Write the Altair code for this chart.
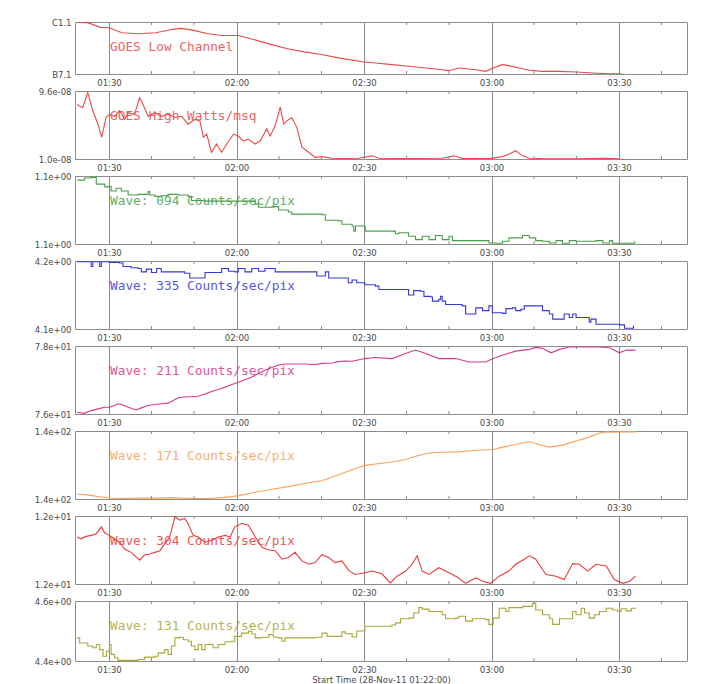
import altair as alt
import pandas as pd

# time axis: minutes after the start time 28-Nov-11 01:22:00
START_LABEL = "Start Time (28-Nov-11 01:22:00)"
major_ticks = [8, 38, 68, 98, 128]          # 01:30 02:00 02:30 03:00 03:30
minor_ticks = [18, 28, 48, 58, 78, 88, 108, 118, 138]

# ---- GOES low channel (units 1e-7 W/m^2 : B7.1 .. C1.1)
goes_low_t = [0.5, 3, 6, 8, 11, 15, 19, 23, 25, 28, 31, 34.5, 38.5, 42, 46, 50, 54, 58, 62, 68,
              70.7, 74.6, 78.5, 82.5, 86.4, 88, 90.3, 94.3, 96.6, 98.4, 100.5, 102, 104.5, 106.9,
              110, 114, 118, 121.8, 125.8, 128.6]
goes_low_v = [10.97, 10.95, 10.6, 10.57, 10.19, 10.12, 10.19, 10.45, 10.52, 10.37, 10.14, 9.99, 9.99,
              9.69, 9.32, 8.99, 8.76, 8.56, 8.31, 8.0, 7.93, 7.8, 7.68, 7.55, 7.42, 7.35, 7.55, 7.42,
              7.3, 7.55, 7.8, 7.73, 7.55, 7.38, 7.3, 7.3, 7.25, 7.18, 7.12, 7.11]

# ---- GOES high channel (units 1e-8 W/m^2)
goes_high_t = [0.5, 1.8, 3.0, 4.2, 5.4, 6.3, 7.3, 8.1, 9.3, 10.5, 11.7, 12.5, 14.0, 15.2, 16.0, 17.2,
               18.8, 20.3, 21.9, 23.5, 25.1, 26.6, 28.2, 29.4, 30.2, 31.0, 32.1, 33.3, 34.5, 35.7,
               37.3, 38.4, 39.6, 40.8, 42.4, 43.6, 45.1, 45.9, 47.1, 48.3, 49.1, 49.8, 51.0, 52.2,
               53.4, 55.0, 56.5, 58.1, 60.5, 62.8, 66.7, 69.9, 71.5, 78.5, 86.4, 89.2, 91.1, 97.4,
               100.6, 102.1, 103.7, 105.3, 106.9, 110.0, 117.9, 124.2, 128.1]
goes_high_v = [7.9, 7.5, 9.4, 7.1, 5.4, 3.75, 6.25, 6.65, 6.4, 7.1, 6.0, 6.85, 6.65, 8.75, 7.9, 6.4,
               6.85, 6.4, 6.65, 6.25, 6.4, 5.4, 6.0, 5.8, 3.75, 4.15, 1.85, 2.9, 1.85, 2.9,
               4.15, 3.9, 3.3, 3.5, 2.9, 3.3, 4.8, 3.9, 5.2, 7.6, 5.4, 5.8, 6.25, 5.0,
               2.5, 1.85, 1.2, 1.3, 1.1, 1.05, 1.1, 1.4, 1.1, 1.05, 1.1, 1.4, 1.05, 1.05,
               1.3, 1.6, 2.05, 1.4, 1.1, 1.05, 1.02, 1.1, 1.02]

# ---- AIA 94
w094_t = [0.5, 2.2, 3.8, 5.0, 7.0, 7.7, 8.5, 9.7, 10.9, 12.5, 14.8, 17.2, 17.6, 18.8, 20.3, 21.9,
          24.3, 26.6, 27.4, 30.6, 38.4, 42.4, 43.2, 46.3, 47.9, 50.2, 51.0, 58.1, 58.9, 62.0,
          62.8, 65.2, 65.6, 66.0, 68.2, 68.3, 74.6, 75.4, 76.2, 78.5, 80.1, 81.7, 83.3, 84.8,
          86.4, 88.0, 88.8, 94.3, 97.4, 99.0, 100.6, 102.1, 103.7, 105.3, 106.9, 108.4, 110.0,
          111.6, 113.2, 114.7, 116.3, 117.9, 122.6, 124.2, 125.8, 126.5, 130.5, 131.7]
w094_v = [1.144, 1.147, 1.148, 1.138, 1.134, 1.135, 1.128, 1.132, 1.128, 1.122, 1.123, 1.127, 1.122,
          1.120, 1.121, 1.123, 1.122, 1.120, 1.114, 1.113, 1.113, 1.109, 1.104, 1.105, 1.100, 1.097,
          1.094, 1.093, 1.085, 1.084, 1.079, 1.0765, 1.069, 1.0765, 1.075, 1.069, 1.069, 1.065,
          1.0665, 1.0615, 1.0565, 1.0615, 1.0565, 1.0625, 1.0565, 1.0615, 1.055, 1.055, 1.0515,
          1.051, 1.054, 1.059, 1.059, 1.0625, 1.059, 1.055, 1.054, 1.0515, 1.055, 1.051, 1.055,
          1.054, 1.055, 1.0515, 1.055, 1.051, 1.051, 1.054]

# ---- AIA 335
w335_t = [0.5, 3.0, 3.8, 4.2, 5.8, 6.2, 8.1, 10.5, 11.3, 13.2, 14.8, 15.6, 16.8, 18.0, 19.2, 20.3,
          24.3, 25.8, 27.0, 29.8, 30.6, 33.7, 34.5, 36.1, 37.6, 38.4, 40.0, 41.6, 43.2, 44.7,
          47.1, 56.5, 56.9, 58.9, 59.7, 64.3, 65.2, 66.3, 68.2, 70.7, 71.5, 77.8, 78.5, 79.7,
          81.3, 82.1, 83.7, 84.1, 85.6, 86.0, 86.4, 87.2, 91.1, 91.9, 93.5, 94.3, 95.9, 97.4,
          98.2, 100.6, 101.4, 102.9, 103.7, 104.9, 105.7, 108.4, 110.0, 111.6, 112.4, 114.7,
          115.1, 116.3, 117.1, 117.9, 119.5, 121.0, 121.4, 122.6, 128.1, 129.3, 131.3, 131.4]
w335_v = [4.199, 4.199, 4.192, 4.199, 4.192, 4.199, 4.198, 4.197, 4.192, 4.190, 4.189, 4.184, 4.188,
          4.183, 4.189, 4.184, 4.184, 4.182, 4.175, 4.175, 4.183, 4.183, 4.189, 4.185, 4.184, 4.189,
          4.184, 4.189, 4.185, 4.189, 4.184, 4.184, 4.178, 4.184, 4.175, 4.168, 4.172, 4.168, 4.165,
          4.163, 4.158, 4.158, 4.150, 4.1565, 4.1555, 4.148, 4.147, 4.141, 4.1435, 4.148, 4.141,
          4.136, 4.134, 4.122, 4.122, 4.131, 4.127, 4.134, 4.124, 4.123, 4.130, 4.131, 4.127,
          4.129, 4.134, 4.134, 4.127, 4.122, 4.1145, 4.1145, 4.122, 4.117, 4.122, 4.117, 4.117,
          4.110, 4.1145, 4.107, 4.106, 4.101, 4.101, 4.105]

# ---- AIA 211
w211_t = [0.5, 2.2, 3.8, 5.4, 7.0, 8.1, 9.3, 10.1, 10.9, 12.5, 14.4, 15.6, 17.2, 18.8, 20.3, 21.9,
          23.1, 24.3, 25.8, 29.0, 30.6, 32.1, 33.7, 35.3, 36.9, 38.6, 40.0, 41.6, 43.2, 44.7,
          46.3, 47.9, 49.4, 54.2, 56.5, 58.1, 60.5, 62.0, 63.6, 65.2, 68.2, 70.7, 74.6, 77.8,
          80.1, 82.5, 85.6, 89.6, 92.7, 96.6, 98.4, 100.6, 103.7, 106.9, 108.4, 110.0, 112.0,
          114.0, 116.3, 117.9, 121.0, 123.4, 125.8, 128.1, 129.7, 131.9]
w211_v = [76.05, 76.02, 76.10, 76.15, 76.20, 76.20, 76.25, 76.30, 76.28, 76.20, 76.12, 76.18, 76.25,
          76.28, 76.30, 76.32, 76.40, 76.48, 76.50, 76.52, 76.59, 76.66, 76.72, 76.79, 76.87, 76.94,
          77.01, 77.09, 77.19, 77.29, 77.37, 77.44, 77.47, 77.47, 77.45, 77.49, 77.50, 77.54, 77.56,
          77.55, 77.63, 77.66, 77.63, 77.78, 77.88, 77.78, 77.63, 77.63, 77.53, 77.53, 77.63, 77.73,
          77.85, 77.90, 77.96, 77.93, 77.80, 77.90, 77.97, 77.97, 77.97, 77.97, 77.95, 77.80, 77.88, 77.88]

# ---- AIA 171
w171_t = [0.5, 3.0, 5.4, 8.1, 10.9, 14.8, 18.8, 22.7, 25.1, 28.2, 31.4, 34.5, 36.9, 38.6, 42.4, 46.3,
          50.2, 54.2, 58.1, 62.0, 65.2, 68.2, 70.7, 74.6, 77.8, 80.1, 83.3, 86.4, 90.3, 94.3, 98.4,
          100.6, 103.7, 106.9, 109.2, 111.6, 114.7, 117.9, 121.0, 123.4, 125.0, 126.6, 128.9, 131.9]
w171_v = [140.28, 140.24, 140.14, 140.06, 140.03, 140.05, 140.05, 140.08, 140.05, 140.03, 140.03, 140.08,
          140.14, 140.20, 140.40, 140.57, 140.73, 140.93, 141.07, 141.43, 141.72, 141.98, 142.06,
          142.18, 142.32, 142.51, 142.71, 142.75, 142.77, 142.87, 142.91, 143.05, 143.21, 143.37,
          143.21, 143.05, 143.17, 143.41, 143.64, 143.88, 143.95, 143.93, 143.95, 143.95]

# ---- AIA 304
w304_t = [0.5, 1.4, 2.6, 3.8, 5.0, 6.2, 7.0, 8.1, 9.3, 10.5, 11.7, 13.2, 15.2, 16.4, 17.6, 18.8, 20.0,
          21.1, 22.3, 23.5, 24.7, 25.8, 26.6, 27.8, 29.0, 30.6, 32.1, 33.7, 35.3, 36.5, 37.6, 39.2,
          40.8, 42.4, 44.0, 45.6, 47.1, 48.7, 50.2, 51.8, 53.4, 55.0, 56.5, 58.1, 59.7, 61.2, 62.8,
          64.4, 65.9, 68.2, 69.9, 72.2, 74.2, 75.8, 77.8, 79.3, 80.5, 81.7, 83.3, 85.6, 88.0, 90.0,
          91.9, 94.3, 95.9, 97.8, 99.8, 102.1, 103.7, 105.7, 106.9, 108.4, 110.8, 113.2, 115.1,
          117.1, 118.7, 120.6, 122.6, 125.0, 126.9, 128.9, 130.5, 131.9]
w304_v = [12.276, 12.266, 12.28, 12.286, 12.296, 12.336, 12.30, 12.286, 12.266, 12.246, 12.206, 12.186,
          12.14, 12.172, 12.176, 12.186, 12.196, 12.236, 12.276, 12.395, 12.376, 12.386, 12.356, 12.286,
          12.276, 12.246, 12.256, 12.276, 12.286, 12.276, 12.336, 12.356, 12.346, 12.276, 12.216, 12.20,
          12.196, 12.146, 12.156, 12.186, 12.136, 12.116, 12.126, 12.172, 12.156, 12.126, 12.136, 12.08,
          12.056, 12.066, 12.076, 12.06, 12.006, 12.046, 12.076, 12.116, 12.166, 12.076, 12.056, 12.096,
          12.066, 12.04, 12.004, 12.036, 12.016, 12.004, 12.046, 12.076, 12.116, 12.146, 12.166, 12.146,
          12.056, 12.046, 12.026, 12.12, 12.116, 12.076, 12.116, 12.106, 12.026, 12.004, 12.016, 12.046]

# ---- AIA 131
w131_t = [0.5, 1.1, 2.2, 3.0, 4.2, 5.0, 5.8, 6.6, 7.4, 8.1, 8.5, 9.3, 10.1, 12.5, 14.8, 16.4, 18.8,
          19.6, 21.1, 21.9, 22.7, 23.5, 24.7, 25.5, 26.6, 27.4, 28.2, 29.0, 29.8, 30.6, 32.5, 33.7,
          35.3, 36.9, 37.6, 39.2, 40.8, 41.6, 42.4, 44.0, 45.6, 46.7, 47.9, 48.7, 49.4, 54.2, 56.5,
          58.1, 59.3, 62.0, 62.8, 63.6, 65.2, 66.3, 68.2, 74.6, 75.4, 76.6, 78.5, 79.7, 80.9, 81.7,
          83.3, 86.4, 87.2, 89.6, 90.3, 91.9, 93.5, 96.6, 97.4, 98.4, 99.8, 101.4, 102.1, 105.3,
          107.7, 108.4, 110.0, 111.6, 112.4, 114.0, 116.3, 117.1, 117.9, 119.1, 119.9, 121.0, 122.2,
          123.4, 125.0, 126.5, 127.7, 128.5, 129.7, 130.9, 131.9]
w131_v = [4.477, 4.46, 4.46, 4.45, 4.444, 4.455, 4.438, 4.416, 4.433, 4.455, 4.422, 4.411, 4.402, 4.402,
          4.405, 4.413, 4.416, 4.427, 4.438, 4.422, 4.45, 4.477, 4.479, 4.471, 4.466, 4.45, 4.438,
          4.455, 4.438, 4.455, 4.444, 4.455, 4.464, 4.466, 4.482, 4.493, 4.499, 4.49, 4.477, 4.479,
          4.488, 4.479, 4.477, 4.466, 4.477, 4.477, 4.479, 4.493, 4.482, 4.482, 4.497, 4.491, 4.48,
          4.50, 4.516, 4.52, 4.527, 4.541, 4.543, 4.56, 4.578, 4.573, 4.565, 4.554, 4.541, 4.543,
          4.549, 4.533, 4.541, 4.538, 4.522, 4.543, 4.576, 4.565, 4.578, 4.582, 4.592, 4.57, 4.554,
          4.541, 4.522, 4.541, 4.541, 4.565, 4.554, 4.576, 4.56, 4.543, 4.554, 4.565, 4.576, 4.57,
          4.565, 4.574, 4.567, 4.576, 4.574]

GRID = "#8c8c8c"
TXT = "#4a4a4a"
W = 612
X_DOMAIN = [0, 144]
time_expr = "timeFormat(datetime(2011, 10, 28, 1, 22 + datum.value, 0), '%H:%M')"


def panel(t, v, lo, hi, lo_lbl, hi_lbl, color, label, h, step=False, last=False):
    df = pd.DataFrame({"t": t, "v": v})
    ax_kw = dict(values=major_ticks, grid=True, labelExpr=time_expr, ticks=False, domain=False,
                 labelPadding=4, labelFlush=False)
    if last:
        ax_kw.update(title=START_LABEL, titlePadding=2)
    else:
        ax_kw.update(title=None)
    xenc = alt.X("t:Q", scale=alt.Scale(domain=X_DOMAIN, nice=False, zero=False),
                 axis=alt.Axis(**ax_kw))
    mid = (lo + hi) / 2
    yenc = alt.Y("v:Q", scale=alt.Scale(domain=[lo, hi], nice=False, zero=False),
                 axis=alt.Axis(values=[lo, hi], title=None, grid=False, ticks=False, domain=False,
                               labelPadding=4,
                               labelExpr=f"datum.value < {mid} ? '{lo_lbl}' : '{hi_lbl}'"))
    line = alt.Chart(df).mark_line(
        color=color, strokeWidth=1.1, clip=True,
        interpolate="step-after" if step else "linear",
    ).encode(x=xenc, y=yenc)
    mt = pd.DataFrame({"t": minor_ticks})
    tick_top = alt.Chart(mt).mark_rule(color=GRID, strokeWidth=1).encode(
        x=xenc, y=alt.value(0), y2=alt.value(3))
    tick_bot = alt.Chart(mt).mark_rule(color=GRID, strokeWidth=1).encode(
        x=xenc, y=alt.value(h), y2=alt.value(h - 3))
    lab = alt.Chart(pd.DataFrame({"label": [label]})).mark_text(
        color=color, font="DejaVu Sans Mono", fontSize=12.8, align="left", baseline="middle",
        opacity=0.85,
    ).encode(x=alt.value(35), y=alt.value(25), text="label:N")
    return alt.layer(line, tick_top, tick_bot, lab).properties(width=W, height=h)


panels = [
    panel(goes_low_t, goes_low_v, 7.1, 11.0, "B7.1", "C1.1", "#e8494a", "GOES Low Channel", 52),
    panel(goes_high_t, goes_high_v, 1.0, 9.6, "1.0e-08", "9.6e-08", "#e8494a", "GOES High Watts/msq", 68),
    panel(w094_t, w094_v, 1.05, 1.15, "1.1e+00", "1.1e+00", "#4a9e4a", "Wave: 094 Counts/sec/pix", 68, step=True),
    panel(w335_t, w335_v, 4.10, 4.20, "4.1e+00", "4.2e+00", "#3838d2", "Wave: 335 Counts/sec/pix", 68, step=True),
    panel(w211_t, w211_v, 76.0, 78.0, "7.6e+01", "7.8e+01", "#d63a8a", "Wave: 211 Counts/sec/pix", 68),
    panel(w171_t, w171_v, 140.0, 144.0, "1.4e+02", "1.4e+02", "#f5a35a", "Wave: 171 Counts/sec/pix", 68),
    panel(w304_t, w304_v, 12.0, 12.4, "1.2e+01", "1.2e+01", "#e63c3c", "Wave: 304 Counts/sec/pix", 68),
    panel(w131_t, w131_v, 4.40, 4.60, "4.4e+00", "4.6e+00", "#a8a838", "Wave: 131 Counts/sec/pix", 60,
          step=True, last=True),
]

chart = alt.vconcat(*panels, spacing=17, bounds="flush").properties(
    padding={"left": 25, "top": 9, "right": 5, "bottom": 5},
    background="white",
).configure_view(
    stroke=GRID, strokeWidth=1,
).configure_axis(
    labelFont="DejaVu Sans", labelFontSize=8.5, labelColor=TXT,
    titleFont="DejaVu Sans", titleFontSize=8.5, titleFontWeight="normal", titleColor=TXT,
    gridColor=GRID, gridOpacity=1, gridWidth=1,
)

chart.save("out.html", embed_options={"renderer": "svg", "actions": False})
